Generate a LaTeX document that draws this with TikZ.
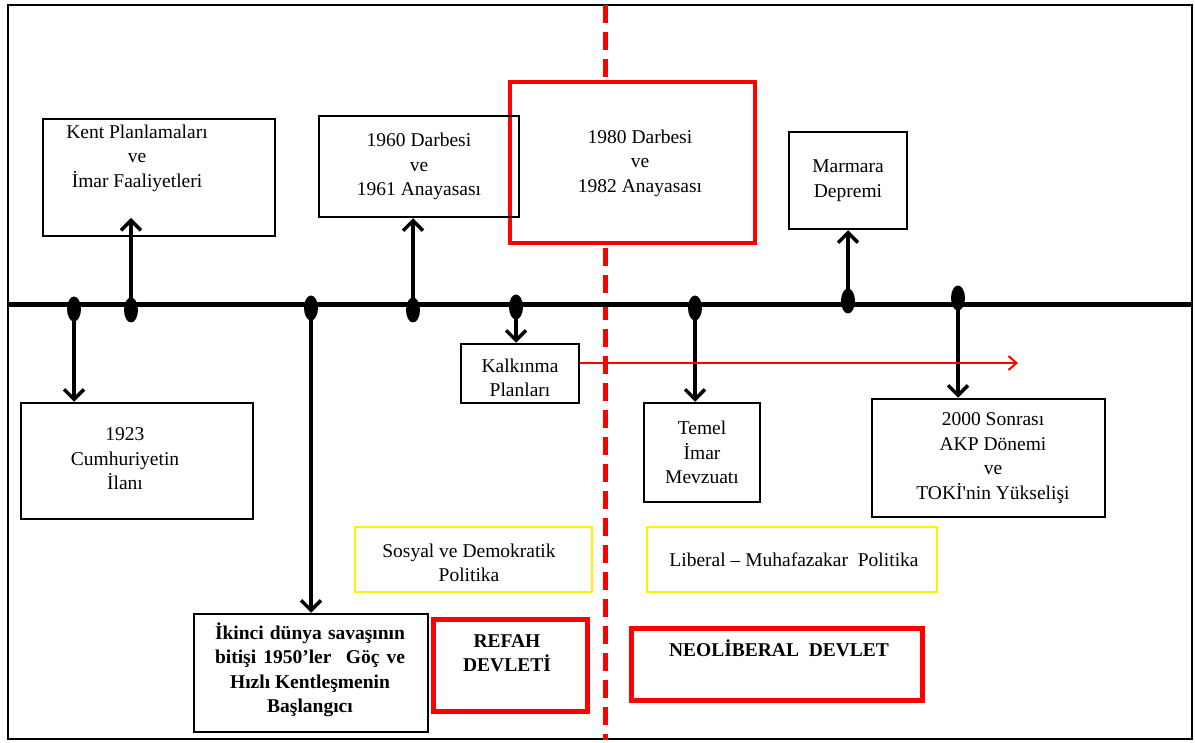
\documentclass[tikz,border=0pt]{standalone}
\usepackage{fontspec}
\setmainfont{Liberation Serif}[Ligatures=TeXOff]
\usepackage{tikz}
\usetikzlibrary{positioning,shapes,arrows.meta}

\begin{document}
\begin{tikzpicture}[x=1pt,y=-1pt]
\tikzstyle{every node}+=[inner sep=0pt,font=\fontsize{19.5}{24.5}\selectfont,align=center]
\tikzstyle{blackbox}=[draw=black,line width=2.5pt,rectangle]
\tikzstyle{periodbox}=[draw=red,line width=3.5pt,rectangle,fill=white]
\tikzstyle{statebox}=[draw=red,line width=5pt,rectangle]
\tikzstyle{policybox}=[draw=yellow,line width=2.5pt,rectangle]
\tikzstyle{dot}=[ellipse,fill=black,minimum width=14pt,minimum height=25pt]
\tikzstyle{evt}=[black,line width=3.5pt,-{Straight Barb[length=10pt,width=20pt]}]
\useasboundingbox (0,0) rectangle (1195,743);
\draw [black,line width=2pt] (8,5) rectangle (1192,739);
\draw [red,line width=5pt,dash pattern=on 18pt off 9pt] (605,5) -- (605,740);
\coordinate (tlL) at (8,305);
\coordinate (tlR) at (1192,305);
\draw [black,line width=5pt] (tlL) -- (tlR);
\node [periodbox,minimum width=245pt,minimum height=161pt] (y1980) at (632.5,162.5) {};
\node (y1980t) at (640,163) {1980 Darbesi\\ve\\1982 Anayasası};
\node [blackbox,minimum width=232pt,minimum height=117pt] (kent) at (159,177.5) {};
\node (kentt) at (137,158) {Kent Planlamaları\\ve\\İmar Faaliyetleri};
\node [blackbox,minimum width=200pt,minimum height=101pt] (y1960) at (419,166.5) {1960 Darbesi\\ve\\1961 Anayasası};
\node [blackbox,minimum width=118pt,minimum height=97pt] (marmara) at (848,180.5) {Marmara\\Depremi};
\node [blackbox,minimum width=232pt,minimum height=116pt] (cumh) at (137,461) {};
\node (cumht) at (125,459) {1923\\Cumhuriyetin\\İlanı};
\node [blackbox,minimum width=118pt,minimum height=59pt] (kalk) at (520,373.5) {};
\node (kalkt) at (520,378) {Kalkınma\\Planları};
\node [blackbox,minimum width=116pt,minimum height=99pt] (temel) at (702,452.5) {Temel\\İmar\\Mevzuatı};
\node [blackbox,minimum width=233pt,minimum height=118pt] (akp) at (988.5,458) {};
\node (akpt) at (993,458) {2000 Sonrası\\AKP Dönemi\\ve\\TOKİ'nin Yükselişi};
\node [blackbox,minimum width=234pt,minimum height=118pt] (ikinci) at (311,673) {};
\node [font=\fontsize{19.5}{24.5}\selectfont\bfseries] (ikincit) at (310,670) {\makebox[190pt][s]{İkinci dünya savaşının}\\\makebox[190pt][s]{bitişi 1950’ler\ \ Göç ve}\\Hızlı Kentleşmenin\\Başlangıcı};
\node [policybox,minimum width=237pt,minimum height=65pt] (sosyal) at (473.5,559.5) {};
\node (sosyalt) at (469,563) {Sosyal ve Demokratik\\Politika};
\node [policybox,minimum width=290pt,minimum height=65pt] (liberal) at (792,559.5) {};
\node (liberalt) at (794,560) {Liberal – Muhafazakar\ \ Politika};
\node [statebox,minimum width=154pt,minimum height=92pt] (refah) at (510,665) {};
\node [font=\fontsize{19.5}{24.5}\selectfont\bfseries] (refaht) at (507,653) {REFAH\\DEVLETİ};
\node [statebox,minimum width=291pt,minimum height=72pt] (neo) at (776.5,664) {};
\node [font=\fontsize{19.5}{24.5}\selectfont\bfseries] (neot) at (779,648) {NEOLİBERAL\ \ DEVLET};
\node [dot] (d1) at (74,309) {};
\node [dot] (d2) at (131,310) {};
\node [dot] (d3) at (311,308) {};
\node [dot] (d4) at (413,310) {};
\node [dot] (d5) at (516,307) {};
\node [dot] (d6) at (695,308) {};
\node [dot] (d7) at (848,301) {};
\node [dot] (d8) at (958,298) {};
\coordinate (kentin) at (131,218);
\coordinate (redend) at (1018,363);
\draw [evt] (d1.center) -- (d1 |- cumh.north);
\draw [evt] (d2.center) -- (kentin);
\draw [evt] (d3.center) -- (d3 |- ikinci.north);
\draw [evt] (d4.center) -- (d4 |- y1960.south);
\draw [evt] (d5.center) -- (d5 |- kalk.north);
\draw [evt] (d6.center) -- (d6 |- temel.north);
\draw [evt] (d7.center) -- (d7 |- marmara.south);
\draw [evt] (d8.center) -- (d8 |- akp.north);
\draw [red,line width=2pt,-{Straight Barb[length=8pt,width=14pt]}] (kalk.east |- redend) -- (redend);
\end{tikzpicture}
\end{document}
